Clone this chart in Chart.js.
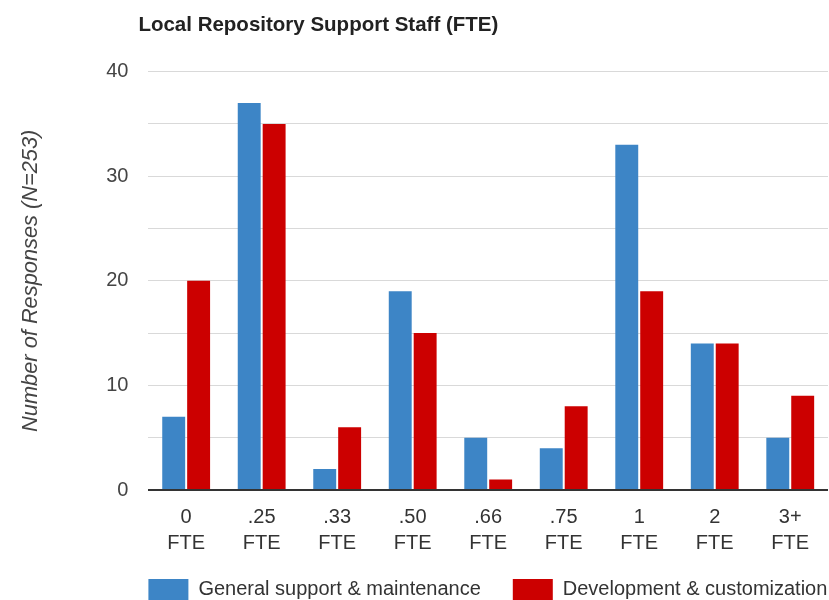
<!DOCTYPE html>
<html>
<head>
<meta charset="utf-8">
<script src="https://cdn.jsdelivr.net/npm/chart.js@4"></script>
<style>
  body { margin: 0; background: #fff; }
  #wrap { width: 829px; height: 600px; }
</style>
</head>
<body>
<div id="wrap"><canvas id="staffChart" width="829" height="600"></canvas></div>
<script>
// categories (two-line labels)
const categories = [
    ['0', 'FTE'], ['.25', 'FTE'], ['.33', 'FTE'], ['.50', 'FTE'], ['.66', 'FTE'],
    ['.75', 'FTE'], ['1', 'FTE'], ['2', 'FTE'], ['3+', 'FTE']
];
const generalSupport = [7, 37, 2, 19, 5, 4, 33, 14, 5];
const development = [20, 35, 6, 15, 1, 8, 19, 14, 9];
const yTickLabels = [0, 10, 20, 30, 40];

// title and legend line up with the plot area instead of the canvas edge
const alignBlocks = {
    id: 'alignBlocks',
    afterLayout(chart) {
        const left = chart.chartArea.left;
        if (chart.legend) {
            chart.legend.left = left - chart.legend.options.labels.padding;
            chart.legend.right = chart.width + 200;
            chart.legend.top = 547;
        }
        if (chart.titleBlock) {
            chart.titleBlock.left = left - 10;
        }
    }
};

const ctx = document.getElementById('staffChart').getContext('2d');
new Chart(ctx, {
    type: 'bar',
    data: {
        labels: categories,
        datasets: [{
            label: 'General support & maintenance',
            data: generalSupport,
            backgroundColor: '#3d85c6',
            barPercentage: 0.92,
            categoryPercentage: 0.66
        }, {
            label: 'Development & customization',
            data: development,
            backgroundColor: '#cc0000',
            barPercentage: 0.92,
            categoryPercentage: 0.66
        }]
    },
    plugins: [alignBlocks],
    options: {
        responsive: false,
        animation: false,
        layout: {
            padding: { left: 8, right: 1, top: 0, bottom: -33 }
        },
        plugins: {
            title: {
                display: true,
                text: 'Local Repository Support Staff (FTE)',
                align: 'start',
                color: '#222',
                font: { family: 'Liberation Sans, Arial', size: 20.5, weight: 'bold' },
                padding: { top: 13, bottom: 34 }
            },
            legend: {
                position: 'bottom',
                align: 'start',
                labels: {
                    boxWidth: 40,
                    boxHeight: 21,
                    padding: 32,
                    color: '#333',
                    font: { family: 'Liberation Sans, Arial', size: 20 }
                }
            },
            tooltip: { enabled: false }
        },
        scales: {
            x: {
                grid: { display: false, drawTicks: false },
                border: { display: false },
                ticks: {
                    color: '#333',
                    padding: 14,
                    maxRotation: 0,
                    font: { family: 'Liberation Sans, Arial', size: 20, lineHeight: 1.3 }
                }
            },
            y: {
                min: 0,
                max: 40,
                border: { display: false },
                grid: {
                    drawTicks: false,
                    color: (c) => c.tick && c.tick.value === 0 ? '#333' : '#d9d9d9',
                    lineWidth: (c) => c.tick && c.tick.value === 0 ? 2 : 1
                },
                ticks: {
                    stepSize: 5,
                    padding: 20,
                    color: '#444',
                    font: { family: 'Liberation Sans, Arial', size: 20 },
                    callback: function(value) {
                        return yTickLabels.includes(value) ? value : '';
                    }
                },
                title: {
                    display: true,
                    text: 'Number of Responses (N=253)',
                    color: '#444',
                    font: { family: 'Liberation Sans, Arial', size: 21.8, style: 'italic' },
                    padding: { top: 10, bottom: 42 }
                }
            }
        }
    }
});
</script>
</body>
</html>
